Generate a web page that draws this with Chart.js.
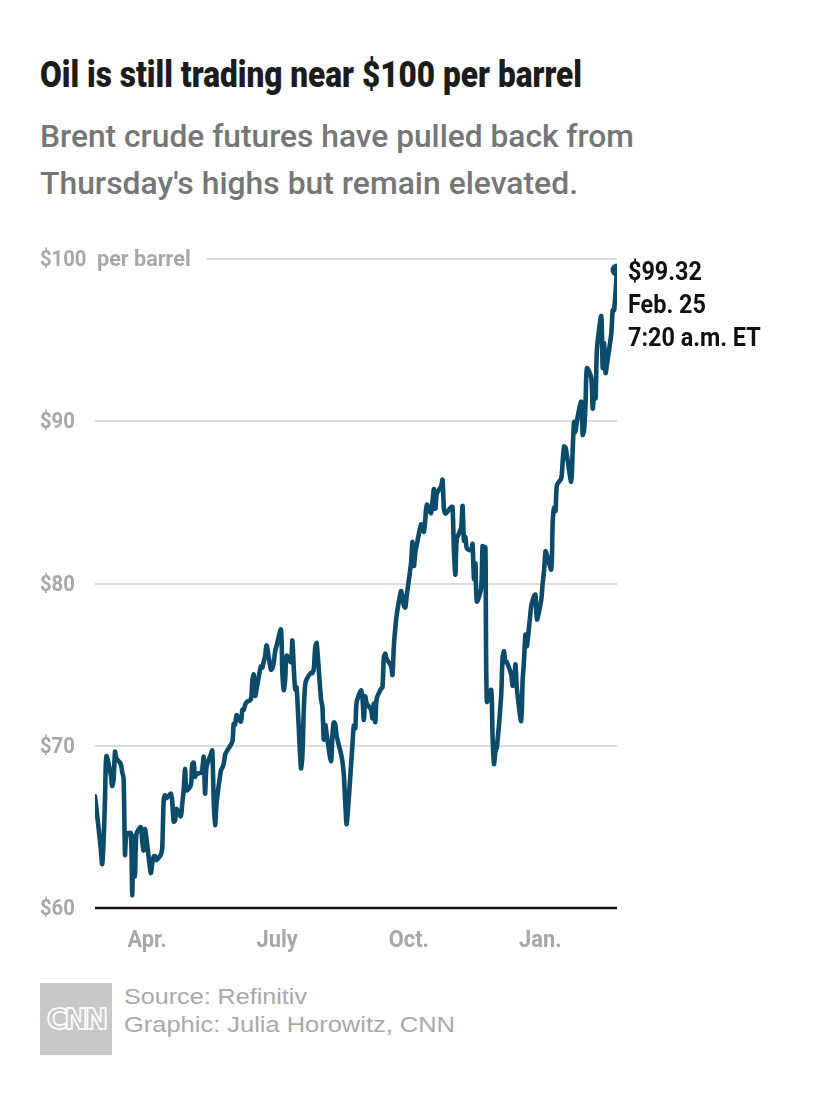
<!DOCTYPE html>
<html>
<head>
<meta charset="utf-8">
<script src="https://cdn.jsdelivr.net/npm/chart.js@4.4.1/dist/chart.umd.min.js"></script>
<style>
html,body{margin:0;padding:0;background:#fff;width:830px;height:1106px;overflow:hidden;}
.t{position:absolute;white-space:nowrap;transform-origin:0 0;}
#title{left:40px;top:56px;font-family:Roboto,"DejaVu Sans Condensed",sans-serif;font-weight:900;font-size:37px;line-height:37px;color:#1c1c1c;}
.sub{left:40px;font-family:Roboto,"DejaVu Sans Condensed",sans-serif;font-weight:500;font-size:32px;line-height:32px;color:#767676;}
#sub1{top:120px;}
#sub2{top:167px;}
#wrap{position:absolute;left:0;top:230px;width:830px;height:740px;}
.foot{left:124px;font-family:"Liberation Sans",Arial,sans-serif;font-size:22px;line-height:22px;color:#a9a9a9;}
#src{top:986px;}
#gfx{top:1014px;}
#logo{position:absolute;left:40px;top:983px;width:72px;height:72px;background:#c8c8c8;display:flex;align-items:center;justify-content:center;}
#logo span{font-family:"DejaVu Sans",sans-serif;font-weight:bold;font-size:28px;color:#c8c8c8;-webkit-text-stroke:1.6px #fff;letter-spacing:-3px;}
</style>
</head>
<body>
<div id="title" class="t" data-w="542">Oil is still trading near $100 per barrel</div>
<div id="sub1" class="t sub" data-w="594">Brent crude futures have pulled back from</div>
<div id="sub2" class="t sub" data-w="538">Thursday's highs but remain elevated.</div>
<div id="wrap"><canvas id="c"></canvas></div>
<div id="logo"><span>CNN</span></div>
<div id="src" class="t foot" data-w="183">Source: Refinitiv</div>
<div id="gfx" class="t foot" data-w="331">Graphic: Julia Horowitz, CNN</div>
<script>
// ---- data ----
const dates = [
"2021-02-25","2021-02-26","2021-03-01","2021-03-02","2021-03-03","2021-03-04","2021-03-05","2021-03-08","2021-03-09","2021-03-10",
"2021-03-11","2021-03-12","2021-03-15","2021-03-16","2021-03-17","2021-03-18","2021-03-19","2021-03-22","2021-03-23","2021-03-24",
"2021-03-25","2021-03-26","2021-03-29","2021-03-30","2021-03-31","2021-04-01","2021-04-05","2021-04-06","2021-04-07","2021-04-08",
"2021-04-09","2021-04-12","2021-04-13","2021-04-14","2021-04-15","2021-04-16","2021-04-19","2021-04-20","2021-04-21","2021-04-22",
"2021-04-23","2021-04-26","2021-04-27","2021-04-28","2021-04-29","2021-04-30","2021-05-03","2021-05-04","2021-05-05","2021-05-06",
"2021-05-07","2021-05-10","2021-05-11","2021-05-12","2021-05-13","2021-05-14","2021-05-17","2021-05-18","2021-05-19","2021-05-20",
"2021-05-21","2021-05-24","2021-05-25","2021-05-26","2021-05-27","2021-05-28","2021-06-01","2021-06-02","2021-06-03","2021-06-04",
"2021-06-07","2021-06-08","2021-06-09","2021-06-10","2021-06-11","2021-06-14","2021-06-15","2021-06-16","2021-06-17","2021-06-18",
"2021-06-21","2021-06-22","2021-06-23","2021-06-24","2021-06-25","2021-06-28","2021-06-29","2021-06-30","2021-07-01","2021-07-02",
"2021-07-05","2021-07-06","2021-07-07","2021-07-08","2021-07-09","2021-07-12","2021-07-13","2021-07-14","2021-07-15","2021-07-16",
"2021-07-19","2021-07-20","2021-07-21","2021-07-22","2021-07-23","2021-07-26","2021-07-27","2021-07-28","2021-07-29","2021-07-30",
"2021-08-02","2021-08-03","2021-08-04","2021-08-05","2021-08-06","2021-08-09","2021-08-10","2021-08-11","2021-08-12","2021-08-13",
"2021-08-16","2021-08-17","2021-08-18","2021-08-19","2021-08-20","2021-08-23","2021-08-24","2021-08-25","2021-08-26","2021-08-27",
"2021-08-30","2021-08-31","2021-09-01","2021-09-02","2021-09-03","2021-09-06","2021-09-07","2021-09-08","2021-09-09","2021-09-10",
"2021-09-13","2021-09-14","2021-09-15","2021-09-16","2021-09-17","2021-09-20","2021-09-21","2021-09-22","2021-09-23","2021-09-24",
"2021-09-27","2021-09-28","2021-09-29","2021-09-30","2021-10-01","2021-10-04","2021-10-05","2021-10-06","2021-10-07","2021-10-08",
"2021-10-11","2021-10-12","2021-10-13","2021-10-14","2021-10-15","2021-10-18","2021-10-19","2021-10-20","2021-10-21","2021-10-22",
"2021-10-25","2021-10-26","2021-10-27","2021-10-28","2021-10-29","2021-11-01","2021-11-02","2021-11-03","2021-11-04","2021-11-05",
"2021-11-08","2021-11-09","2021-11-10","2021-11-11","2021-11-12","2021-11-15","2021-11-16","2021-11-17","2021-11-18","2021-11-19",
"2021-11-22","2021-11-23","2021-11-24","2021-11-25","2021-11-26","2021-11-29","2021-11-30","2021-12-01","2021-12-02","2021-12-03",
"2021-12-06","2021-12-07","2021-12-08","2021-12-09","2021-12-10","2021-12-13","2021-12-14","2021-12-15","2021-12-16","2021-12-17",
"2021-12-20","2021-12-21","2021-12-22","2021-12-23","2021-12-24","2021-12-27","2021-12-28","2021-12-29","2021-12-30","2021-12-31",
"2022-01-03","2022-01-04","2022-01-05","2022-01-06","2022-01-07","2022-01-10","2022-01-11","2022-01-12","2022-01-13","2022-01-14",
"2022-01-17","2022-01-18","2022-01-19","2022-01-20","2022-01-21","2022-01-24","2022-01-25","2022-01-26","2022-01-27","2022-01-28",
"2022-01-31","2022-02-01","2022-02-02","2022-02-03","2022-02-04","2022-02-07","2022-02-08","2022-02-09","2022-02-10","2022-02-11",
"2022-02-14","2022-02-15","2022-02-16","2022-02-17","2022-02-18","2022-02-21","2022-02-22","2022-02-23","2022-02-25"
];
const prices = [
66.88,66.13,63.69,62.70,64.07,66.74,69.36,68.24,67.52,67.90,
69.63,69.22,68.88,68.39,68.00,63.28,64.53,64.62,60.79,64.41,
61.95,64.57,64.98,64.14,63.54,64.86,62.15,62.74,63.16,63.20,
62.95,63.28,63.67,66.58,66.94,66.77,67.05,66.57,65.32,65.40,
66.11,65.65,66.42,67.27,68.56,67.25,67.56,68.88,68.96,68.09,
68.28,68.32,68.55,69.32,67.05,68.71,69.46,69.71,66.66,65.11,
66.44,68.46,68.65,68.87,69.46,69.63,70.25,71.35,71.31,71.89,
71.49,72.22,72.22,72.52,72.69,72.86,73.99,74.39,73.08,73.51,
74.90,74.81,75.19,75.56,76.18,74.68,74.76,75.13,75.84,76.17,
77.16,74.53,73.43,74.12,75.55,75.16,76.49,74.76,73.47,73.59,
68.62,69.35,72.23,73.79,74.10,74.50,74.48,74.74,76.05,76.33,
72.89,72.41,70.38,71.29,70.70,69.04,70.63,71.44,71.31,70.59,
69.51,69.03,68.23,66.45,65.18,68.75,70.05,71.25,71.07,72.70,
73.41,72.99,71.59,73.03,72.61,72.22,71.69,72.60,71.45,72.92,
73.51,73.60,75.46,75.67,75.34,74.92,74.36,76.19,77.25,78.09,
79.53,79.09,78.64,78.52,79.28,81.26,82.56,81.08,81.95,82.39,
83.65,83.42,83.18,84.00,84.86,84.33,85.08,85.82,84.61,85.53,
85.99,86.40,84.58,84.32,84.38,84.71,84.72,81.99,80.54,82.74,
83.43,84.78,82.64,82.87,82.17,82.05,82.43,80.28,81.24,78.89,
79.70,82.31,82.25,82.22,72.72,73.44,70.57,68.87,69.67,69.88,
73.08,75.44,75.82,75.15,75.15,74.39,73.70,73.88,75.02,73.52,
71.52,73.98,75.29,76.85,76.14,78.60,78.94,79.23,79.32,77.78,
78.98,80.00,80.80,81.99,81.75,80.87,83.72,84.67,84.47,86.06,
86.48,87.51,88.44,88.38,87.89,86.27,88.20,89.96,89.34,90.03,
91.21,89.16,89.47,91.11,93.27,92.69,90.78,91.55,91.41,94.44,
96.48,93.28,94.81,92.97,93.54,95.39,96.84,96.84,99.32
];
const yTicks = [60, 70, 80, 90, 100];
const yTickLabels = ["$60", "$70", "$80", "$90", "$100"];
const yUnit = "per barrel";
const xTickDates = ["2021-04-01", "2021-07-01", "2021-10-01", "2022-01-01"];
const xTickLabels = ["Apr.", "July", "Oct.", "Jan."];
const lastLabel = ["$99.32", "Feb. 25", "7:20 a.m. ET"];

// ---- helpers ----
const DAY = 86400000;
const t0 = Date.parse(dates[0]);
const dayOf = s => Math.round((Date.parse(s) - t0) / DAY);
const points = dates.map((d, i) => ({x: dayOf(d), y: prices[i]}));
const xTickDays = xTickDates.map(dayOf);

// fit HTML text to target widths
document.querySelectorAll('[data-w]').forEach(el => {
  const w = el.getBoundingClientRect().width;
  el.style.transform = 'scaleX(' + (+el.dataset.w / w) + ')';
});

const FONT = 'Roboto,"DejaVu Sans Condensed",sans-serif';
const LINE = '#0d4b6b';
const AXIS_GREY = '#a8a8a8';

function condensedText(ctx, s, x, y, k) {
  ctx.save();
  ctx.translate(x, y);
  ctx.scale(k, 1);
  ctx.fillText(s, 0, 0);
  ctx.restore();
  return ctx.measureText(s).width * k;
}

const decor = {
  id: 'decor',
  beforeDatasetsDraw(chart) {
    const {ctx, chartArea: a, scales: {x, y}} = chart;
    ctx.save();
    ctx.font = 'bold 22px ' + FONT;
    ctx.textBaseline = 'middle';
    ctx.textAlign = 'left';
    ctx.fillStyle = AXIS_GREY;
    yTicks.forEach((v, i) => {
      const py = Math.round(y.getPixelForValue(v));
      condensedText(ctx, yTickLabels[i], 40, py + 1, 0.92);
      let x0 = a.left;
      if (i === yTicks.length - 1) {
        const uw = condensedText(ctx, yUnit, 97, py + 1, 0.98);
        x0 = 97 + uw + 16;
      }
      ctx.strokeStyle = i === 0 ? '#111' : '#dcdcdc';
      ctx.lineWidth = i === 0 ? 2.5 : 2;
      ctx.beginPath();
      ctx.moveTo(x0, py);
      ctx.lineTo(a.right, py);
      ctx.stroke();
    });
    // x tick labels (centred on the first day of each month)
    ctx.font = 'bold 23px ' + FONT;
    xTickDays.forEach((d, i) => {
      const px = x.getPixelForValue(d);
      const w = ctx.measureText(xTickLabels[i]).width * 0.95;
      condensedText(ctx, xTickLabels[i], px + 2 - w / 2, a.bottom + 33, 0.95);
    });
    ctx.restore();
  },
  afterDatasetsDraw(chart) {
    const {ctx} = chart;
    const meta = chart.getDatasetMeta(0);
    const p = meta.data[meta.data.length - 1];
    ctx.save();
    ctx.fillStyle = '#111';
    ctx.font = 'bold 26px ' + FONT;
    ctx.textBaseline = 'alphabetic';
    ctx.textAlign = 'left';
    lastLabel.forEach((s, i) => condensedText(ctx, s, p.x + 11, p.y + 10 + i * 33, 0.9));
    ctx.restore();
  }
};

new Chart(document.getElementById('c'), {
  type: 'line',
  data: {
    datasets: [{
      data: points,
      borderColor: LINE,
      backgroundColor: LINE,
      borderWidth: 4.6,
      borderJoinStyle: 'round',
      borderCapStyle: 'round',
      tension: 0.25,
      pointRadius: ctx => ctx.dataIndex === points.length - 1 ? 6.5 : 0,
      pointBorderWidth: 0,
      pointHoverRadius: 0
    }]
  },
  options: {
    responsive: true,
    maintainAspectRatio: false,
    animation: false,
    events: [],
    layout: {padding: {left: 95, right: 213, top: 29, bottom: 62}},
    plugins: {legend: {display: false}, tooltip: {enabled: false}},
    scales: {
      x: {
        type: 'linear',
        display: false,
        min: 0,
        max: points[points.length - 1].x
      },
      y: {
        display: false,
        min: 60,
        max: 100
      }
    }
  },
  plugins: [decor]
});
</script>
</body>
</html>
